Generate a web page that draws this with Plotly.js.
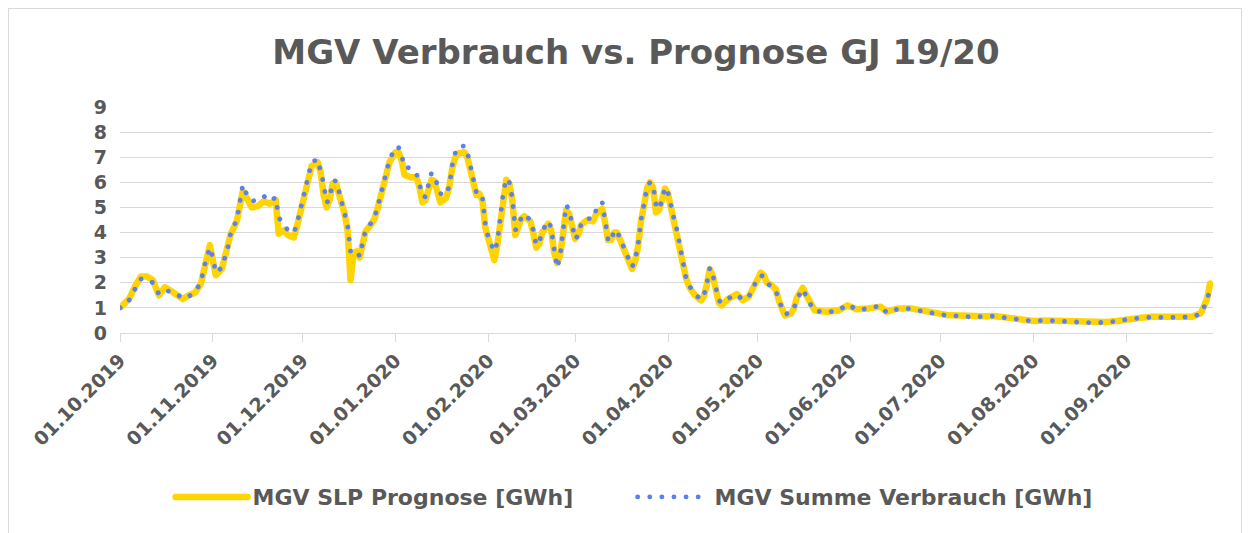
<!DOCTYPE html>
<html>
<head>
<meta charset="utf-8">
<script src="https://cdn.plot.ly/plotly-3.0.1.min.js"></script>
<style>
html, body { margin: 0; padding: 0; background: #ffffff; }
#frame { position: absolute; left: 8px; top: 8px; width: 1234px; height: 560px; border: 1px solid #d9d9d9; box-sizing: border-box; pointer-events: none; }
#chart { position: absolute; left: 0; top: 0; width: 1252px; height: 533px; }
.scatterlayer .trace path.js-line { stroke-linejoin: round; }
.scatterlayer .trace:nth-of-type(2) path.js-line,
.legend .traces:nth-of-type(2) path.js-line { stroke-linecap: round; }
.legend .traces:nth-of-type(1) path.js-line { stroke-linecap: round; }
</style>
</head>
<body>
<div id="chart"></div>
<div id="frame"></div>
<script>
// Day offsets from 01.10.2019
const dayIndex = [0,3,5,7,9,11,13,15,18,21,23,25,27,28,30,31,32,34,36,37,39,40,41,42,44,46,48,50,52,53,55,56,58,59,61,62,63,64,66,67,68,69,70,71,72,73,74,75,76,77,78,79,80,81,82,84,85,86,87,88,89,90,92,93,94,95,97,99,100,101,102,103,104,105,106,107,109,110,111,112,113,115,116,117,118,119,120,121,122,123,125,126,127,128,129,130,131,132,133,134,135,137,138,139,140,141,143,144,145,146,147,148,149,150,151,152,153,154,156,158,159,161,162,163,164,165,166,167,168,169,171,172,173,174,175,176,177,178,179,180,181,182,183,184,185,186,187,188,189,190,192,194,195,196,197,198,199,200,201,203,206,208,210,212,214,215,216,217,219,220,221,222,224,225,226,228,229,230,232,236,240,243,246,250,254,256,260,264,268,272,276,280,284,288,292,296,300,305,309,313,317,321,325,329,333,337,341,345,349,353,358,361,363,364,365];

// MGV Summe Verbrauch [GWh]
const verbrauch = [1.00,1.30,1.75,2.15,2.15,2.00,1.55,1.70,1.62,1.38,1.45,1.65,2.00,2.60,3.40,3.00,2.40,2.60,3.40,4.00,4.50,5.20,5.90,5.60,5.25,5.30,5.45,5.25,5.40,4.60,4.25,4.10,3.98,4.30,5.30,5.85,6.30,6.80,6.92,6.50,5.95,5.20,5.30,6.04,6.06,5.70,5.20,4.85,4.30,3.25,3.27,3.30,3.05,3.70,4.10,4.40,4.60,5.00,5.45,5.90,6.40,6.90,7.40,7.40,7.10,6.60,6.57,6.35,5.95,5.45,5.42,5.85,6.37,6.25,5.85,5.55,5.50,5.90,6.70,7.20,7.42,7.45,7.20,6.60,6.10,5.60,5.62,5.45,4.30,3.80,3.25,3.60,4.60,5.60,6.15,6.00,5.40,4.10,4.20,4.60,4.73,4.50,4.10,3.50,3.60,4.06,4.46,4.20,3.30,2.60,3.10,4.20,5.10,4.90,4.30,3.73,3.90,4.35,4.56,4.55,4.90,5.22,4.50,3.70,3.63,4.10,4.05,3.75,3.45,3.15,2.63,2.90,3.50,4.50,5.30,5.80,6.00,5.90,5.10,4.92,5.30,5.80,5.60,5.00,4.55,4.10,3.50,2.80,2.20,1.90,1.55,1.33,1.50,2.00,2.60,2.30,1.70,1.30,1.20,1.37,1.53,1.32,1.45,1.95,2.30,2.25,2.00,1.90,1.70,1.30,1.00,0.75,0.80,0.95,1.35,1.75,1.50,1.25,0.88,0.82,0.90,1.14,0.93,0.97,1.09,0.81,0.97,0.97,0.86,0.77,0.70,0.68,0.64,0.65,0.67,0.60,0.55,0.47,0.51,0.48,0.43,0.43,0.40,0.43,0.47,0.56,0.60,0.64,0.61,0.61,0.64,0.77,1.30,1.75,1.85];

// MGV SLP Prognose [GWh]
const prognose = [1.00,1.35,1.85,2.25,2.25,2.10,1.50,1.82,1.60,1.35,1.50,1.60,1.95,2.55,3.50,2.90,2.30,2.55,3.35,3.95,4.45,5.10,5.65,5.45,5.00,5.05,5.25,5.15,5.30,3.95,4.10,3.90,3.80,4.20,5.25,5.80,6.25,6.65,6.80,6.40,5.50,5.00,5.30,5.95,6.00,5.65,5.15,4.75,4.10,2.10,3.20,3.25,3.00,3.65,4.05,4.35,4.55,4.95,5.40,5.85,6.35,6.80,7.20,7.20,6.90,6.30,6.20,6.20,5.80,5.20,5.30,5.80,6.10,6.05,5.60,5.20,5.40,5.85,6.60,7.00,7.15,7.20,7.00,6.50,6.00,5.50,5.55,5.30,4.20,3.70,2.90,3.50,4.50,5.50,6.10,5.95,5.30,3.90,4.20,4.55,4.65,4.45,4.00,3.40,3.55,4.00,4.35,4.10,3.20,2.78,3.10,4.10,4.90,4.75,4.20,3.75,3.90,4.30,4.50,4.45,4.74,4.95,4.40,3.70,3.70,4.00,4.00,3.70,3.40,3.10,2.55,2.85,3.45,4.45,5.25,5.75,6.00,5.80,4.80,4.90,5.30,5.75,5.55,4.95,4.50,4.05,3.45,2.75,2.20,1.85,1.50,1.30,1.45,1.95,2.55,2.25,1.65,1.20,1.10,1.35,1.55,1.30,1.45,1.95,2.40,2.30,2.00,1.95,1.75,1.30,0.95,0.70,0.78,0.95,1.40,1.80,1.55,1.30,0.90,0.85,0.90,1.10,0.95,0.98,1.05,0.85,0.98,0.98,0.88,0.78,0.72,0.70,0.66,0.67,0.68,0.62,0.56,0.48,0.50,0.48,0.44,0.44,0.42,0.44,0.48,0.56,0.61,0.65,0.63,0.63,0.65,0.80,1.35,1.97,1.85];

const tickDates = ['2019-10-01','2019-11-01','2019-12-01','2020-01-01','2020-02-01','2020-03-01','2020-04-01','2020-05-01','2020-06-01','2020-07-01','2020-08-01','2020-09-01'];
const tickLabels = ['01.10.2019','01.11.2019','01.12.2019','01.01.2020','01.02.2020','01.03.2020','01.04.2020','01.05.2020','01.06.2020','01.07.2020','01.08.2020','01.09.2020'];
const yTicks = [0,1,2,3,4,5,6,7,8,9];

function toDate(d) {
  const dt = new Date(Date.UTC(2019, 9, 1 + d));
  return dt.toISOString().slice(0, 10);
}
const dates = dayIndex.map(toDate);

const FONT = 'DejaVu Sans';
const GREY = '#595959';

const traces = [
  {
    x: dates, y: prognose, type: 'scatter', mode: 'lines',
    name: 'MGV SLP Prognose [GWh]',
    line: { color: '#FFD400', width: 6.5, shape: 'linear' }
  },
  {
    x: dates, y: verbrauch, type: 'scatter', mode: 'lines',
    name: 'MGV Summe Verbrauch [GWh]',
    line: { color: '#5B80F2', width: 4.8, dash: '0.1px,12px' }
  }
];

const layout = {
  width: 1252, height: 533,
  margin: { l: 120, r: 39, t: 107, b: 200 },
  paper_bgcolor: '#ffffff', plot_bgcolor: '#ffffff',
  title: {
    text: 'MGV Verbrauch vs. Prognose GJ 19/20',
    font: { family: FONT, size: 34, color: GREY, weight: 'bold' },
    x: 0.508, xref: 'container', xanchor: 'center',
    y: 0.902, yref: 'container', yanchor: 'middle'
  },
  xaxis: {
    type: 'date',
    range: ['2019-10-01', '2020-09-30'],
    tickvals: tickDates, ticktext: tickLabels,
    tickangle: -45,
    tickfont: { family: FONT, size: 19, color: GREY, weight: 'bold' },
    ticks: 'outside', ticklen: 8, tickcolor: '#d9d9d9', tickwidth: 1,
    showline: true, linecolor: '#d9d9d9', linewidth: 1,
    showgrid: false, zeroline: false
  },
  yaxis: {
    range: [0, 9],
    tickvals: yTicks,
    tickfont: { family: FONT, size: 19, color: GREY, weight: 'bold' },
    showgrid: true, gridcolor: '#d9d9d9', gridwidth: 1,
    zeroline: false, showline: false, ticks: '',
    ticklabelstandoff: 12
  },
  showlegend: true,
  legend: {
    orientation: 'h', x: 0.469, xanchor: 'center', y: -0.726, yanchor: 'middle',
    font: { family: FONT, size: 22, color: GREY, weight: 'bold' },
    itemwidth: 72, tracegroupgap: 0, traceorder: 'normal',
    entrywidth: 375, entrywidthmode: 'pixels'
  }
};

Plotly.newPlot('chart', traces, layout, { displayModeBar: false, staticPlot: true });
</script>
</body>
</html>
